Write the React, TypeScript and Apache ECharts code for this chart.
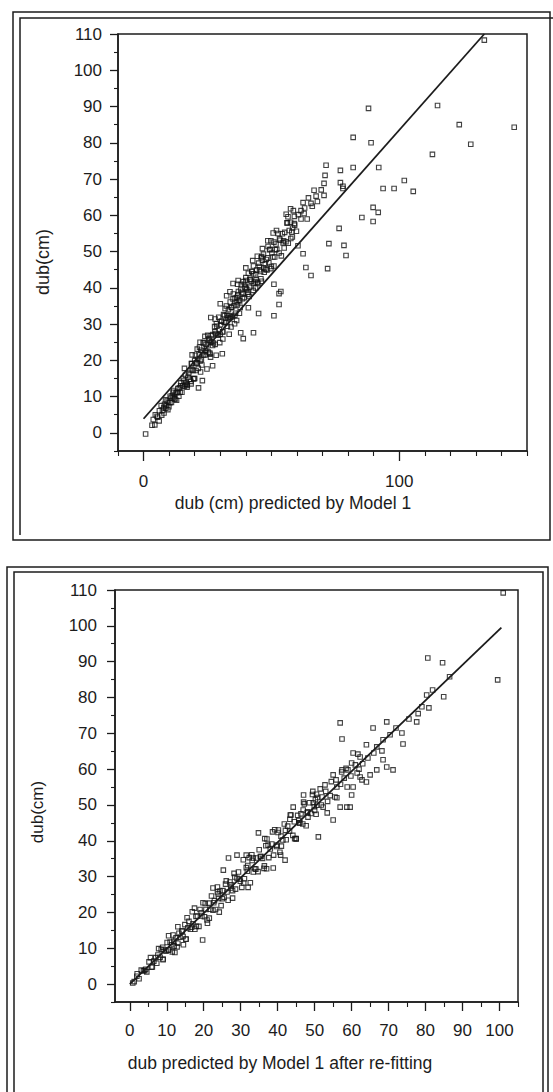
import React, { useEffect, useRef } from "react";
import * as echarts from "echarts";

// Panel 1: observed dub (cm) vs dub (cm) predicted by Model 1
const topPoints: number[][] = [
  [0.8, -0.3],
  [3.3, 2.1], [3.8, 3.7], [4.4, 2.2], [4.6, 5.0], [5.3, 4.6], [5.5, 4.3], [6.1, 3.3], [6.2, 6.1], [6.9, 7.5], [7.1, 4.9],
  [7.4, 6.2], [7.9, 7.0], [8.0, 5.5], [8.6, 9.1], [8.7, 6.8], [9.2, 8.8], [9.5, 6.4], [9.7, 8.4], [10.3, 8.3], [10.4, 10.1],
  [10.9, 8.4], [11.2, 10.2], [11.6, 9.7], [11.8, 11.7], [12.3, 9.3], [12.5, 11.0], [12.9, 9.0], [13.4, 12.2], [13.5, 11.1], [14.0, 12.4],
  [14.3, 11.2], [14.6, 13.8], [15.0, 11.2], [15.3, 13.0], [15.8, 14.3], [16.0, 12.9], [16.4, 15.9], [16.6, 13.9], [17.1, 13.1], [17.4, 15.4],
  [17.9, 14.8], [18.2, 17.2], [18.5, 14.2], [18.9, 19.1], [19.0, 17.4], [19.4, 17.2], [19.7, 15.0], [20.0, 19.9], [20.3, 21.4], [20.5, 17.2],
  [20.9, 19.3], [21.2, 20.3], [21.4, 17.8], [21.9, 23.6], [22.1, 19.8], [22.4, 22.8], [22.8, 18.7], [23.0, 22.1], [23.5, 21.5], [23.7, 24.8],
  [24.1, 21.5], [24.4, 24.4], [24.7, 23.3], [25.1, 26.9], [25.3, 22.3], [25.8, 25.5], [26.0, 21.7], [26.4, 26.8], [26.7, 25.1], [27.1, 27.1],
  [27.3, 24.8], [27.8, 29.3], [28.0, 24.4], [28.3, 27.4], [28.7, 29.4], [28.9, 27.0], [29.4, 31.9], [29.6, 28.5], [30.0, 27.2], [30.3, 30.8],
  [30.6, 30.8], [31.0, 27.9], [31.3, 32.6], [31.5, 30.5], [31.9, 34.3], [32.2, 30.4], [32.6, 32.4], [32.8, 29.4], [33.2, 34.0], [33.5, 32.3],
  [33.9, 36.1], [34.1, 31.9], [34.5, 34.6], [34.8, 32.1], [35.1, 38.3], [35.4, 35.1], [35.8, 37.2], [36.0, 33.0], [36.5, 37.3], [36.7, 35.3],
  [37.1, 39.0], [37.3, 36.6], [37.8, 34.6], [38.0, 39.4], [38.4, 38.7], [38.7, 37.0], [39.0, 41.7], [39.4, 37.3], [39.7, 40.2], [40.1, 42.0],
  [40.4, 39.5], [40.8, 38.2], [41.0, 44.0], [41.5, 40.2], [41.7, 42.3], [42.2, 41.8], [42.4, 44.5], [42.9, 39.3], [43.1, 43.9], [43.6, 41.6],
  [44.0, 42.2], [44.3, 44.9], [44.7, 41.2], [45.0, 46.8], [45.4, 45.0], [45.8, 44.5], [46.1, 41.8], [46.5, 47.6], [46.9, 49.3], [47.2, 44.3],
  [47.6, 46.6], [48.0, 47.8], [48.3, 44.9], [48.7, 51.4], [49.0, 46.9], [49.5, 50.6], [49.8, 45.3], [50.2, 49.6], [50.6, 48.5], [51.0, 52.6],
  [51.3, 48.5], [51.8, 52.1], [52.1, 50.6], [52.6, 55.0], [53.0, 49.6], [53.4, 53.1], [53.9, 48.8], [54.3, 54.9], [54.8, 53.0], [55.2, 55.3],
  [55.7, 52.7], [56.1, 57.9], [56.6, 52.3], [57.0, 55.8], [57.5, 58.1], [58.0, 55.4], [58.6, 61.3], [59.1, 57.3], [59.8, 55.6], [60.5, 60.2],
  [8.2, 7.9], [9.0, 7.5], [9.9, 7.2], [10.7, 9.6], [11.5, 11.2], [12.1, 9.4], [13.0, 11.2], [13.8, 10.1], [14.5, 13.0], [15.5, 15.0],
  [16.3, 13.4], [17.0, 13.4], [17.7, 16.4], [18.7, 19.1], [19.6, 14.9], [20.7, 19.3], [21.7, 21.7], [22.6, 20.2], [23.3, 24.9], [24.2, 22.6],
  [25.5, 26.0], [26.2, 25.0], [27.0, 24.1], [27.9, 27.9], [28.5, 30.1], [29.3, 27.0], [30.1, 29.8], [30.9, 27.8], [31.7, 32.3], [32.4, 35.0],
  [33.0, 31.8], [33.7, 31.5], [34.3, 34.6], [35.0, 36.9], [35.7, 32.4], [36.3, 36.1], [36.9, 38.1], [37.6, 36.4], [38.2, 40.9], [38.9, 38.4],
  [39.5, 41.0], [40.2, 39.9], [40.9, 38.8], [41.6, 42.3], [42.3, 44.5], [43.0, 41.2], [43.8, 43.6], [44.6, 41.5], [45.3, 45.9], [46.2, 48.6],
  [47.0, 45.5], [47.8, 45.1], [48.5, 48.3], [49.3, 50.5], [50.0, 45.9], [51.5, 50.5], [53.2, 53.5], [54.6, 52.4], [56.3, 57.9], [58.3, 56.5],
  [18.6, 13.5], [21.5, 12.4], [23.0, 14.4], [24.8, 17.6], [27.0, 18.5], [28.4, 21.4], [30.8, 21.8], [26.2, 20.9], [22.3, 16.8], [20.0, 15.0],
  [26.3, 31.8], [22.1, 25.0], [19.0, 21.5], [17.0, 12.6], [16.0, 17.8], [24.0, 26.6], [28.0, 31.4], [21.0, 23.1], [25.9, 22.0], [29.8, 24.9],
  [31.0, 25.9], [33.5, 27.2], [35.6, 30.1], [38.0, 27.6], [39.0, 26.0], [43.0, 27.6], [45.0, 32.9], [36.4, 31.0], [41.0, 34.5], [34.2, 29.2], [37.5, 33.0],
  [37.0, 42.0], [35.0, 41.2], [32.5, 37.8], [40.0, 45.5], [42.7, 47.5], [33.8, 38.9], [30.0, 35.6],
  [41.3, 37.6], [43.8, 40.0], [45.9, 42.5], [46.5, 50.8], [48.6, 53.0], [50.7, 55.1], [44.5, 48.7], [55.8, 60.3], [57.5, 61.8], [58.2, 54.0],
  [52.0, 55.8], [49.8, 53.0], [57.6, 53.6], [55.0, 51.0], [60.4, 51.6], [46.0, 48.3], [43.0, 46.0], [51.0, 46.0], [40.0, 42.8], [36.8, 41.0],
  [53.7, 39.0], [53.0, 35.4], [51.0, 41.0], [53.0, 38.4], [51.0, 32.3], [65.5, 43.4], [62.4, 49.4], [63.5, 45.6], [72.0, 45.3], [72.5, 52.2],
  [78.4, 51.7], [79.2, 48.9], [76.5, 56.4], [85.4, 59.4], [89.8, 58.3], [89.8, 62.2], [91.8, 60.8], [93.7, 67.4], [98.0, 67.4], [102.0, 69.6],
  [105.5, 66.6], [113.0, 76.8], [128.0, 79.6], [123.5, 85.0], [145.0, 84.3], [115.0, 90.3], [133.3, 108.3], [88.0, 89.5], [82.0, 81.5], [89.0, 80.0],
  [82.0, 73.2], [92.0, 73.2], [77.0, 72.4], [71.0, 71.0], [77.0, 69.0], [70.6, 68.8], [66.7, 66.9], [70.6, 65.5], [78.0, 67.4], [62.4, 63.5],
  [65.5, 63.3], [61.6, 61.3], [59.0, 59.7], [61.6, 59.0], [71.4, 73.8], [63.0, 62.0], [64.5, 64.8], [66.0, 62.5], [67.5, 65.3], [68.0, 63.8],
  [69.5, 67.0], [62.8, 60.5], [64.0, 59.0], [78.0, 68.0], [59.0, 57.7], [56.5, 59.6]
];

// Panel 2: observed dub (cm) vs dub predicted by Model 1 after re-fitting
const bottomPoints: number[][] = [
  [0.8, 0.3], [1.2, 0.7], [1.9, 2.2], [2.5, 1.5], [3.1, 3.9], [3.7, 3.7], [4.3, 4.1], [4.6, 3.4], [5.2, 6.2], [5.6, 7.4],
  [6.1, 4.8], [6.5, 6.4], [7.0, 7.4], [7.3, 5.8], [7.8, 9.9], [8.2, 7.5], [8.5, 9.7], [9.0, 7.0], [9.3, 9.5], [9.8, 9.2],
  [10.1, 11.6], [10.6, 9.5], [10.9, 11.7], [11.3, 11.0], [11.7, 13.7], [12.0, 10.6], [12.5, 12.9], [12.8, 10.4], [13.3, 14.2], [13.6, 13.1],
  [14.1, 14.7], [14.4, 13.3], [14.9, 16.6], [15.2, 12.5], [15.7, 15.7], [16.0, 17.5], [16.4, 15.3], [16.9, 20.2], [17.1, 16.8], [17.6, 15.3],
  [17.9, 18.9], [18.3, 19.0], [18.7, 16.1], [19.0, 20.8], [19.5, 19.0], [19.8, 22.7], [20.2, 18.8], [20.6, 20.8], [20.9, 17.9], [21.4, 22.6],
  [21.7, 20.9], [22.1, 24.6], [22.5, 20.6], [22.9, 23.3], [23.2, 20.8], [23.7, 27.1], [24.0, 23.9], [24.4, 26.0], [24.7, 21.9], [25.2, 26.1],
  [25.5, 24.2], [25.9, 27.9], [26.3, 25.7], [26.6, 23.4], [27.1, 28.5], [27.4, 27.7], [27.8, 26.1], [28.2, 30.9], [28.6, 26.5], [29.0, 29.5],
  [29.4, 31.3], [29.9, 28.7], [30.3, 27.0], [30.7, 34.7], [31.0, 29.4], [31.5, 32.5], [31.8, 31.5], [32.3, 35.3], [32.6, 28.3], [33.1, 34.5],
  [33.4, 31.3], [33.8, 32.2], [34.2, 35.2], [34.7, 31.4], [35.0, 37.5], [35.5, 35.6], [35.9, 35.1], [36.3, 32.3], [36.8, 38.6], [37.1, 40.5],
  [37.6, 35.3], [38.0, 37.7], [38.4, 39.1], [38.9, 36.0], [39.2, 43.1], [39.7, 38.4], [40.1, 42.3], [40.6, 36.8], [40.9, 41.3], [41.4, 40.2],
  [41.8, 44.7], [42.3, 40.3], [42.7, 44.1], [43.2, 42.7], [43.6, 47.2], [44.1, 41.5], [44.5, 45.3], [45.0, 40.6], [45.4, 47.1], [45.9, 45.0],
  [46.3, 47.5], [46.8, 44.7], [47.2, 50.3], [47.7, 44.2], [48.1, 48.1], [48.6, 50.6], [49.0, 47.6], [49.5, 53.8], [49.9, 49.5], [50.4, 47.4],
  [50.8, 52.1],
  [2.0, 2.9], [4.0, 3.8], [5.9, 4.7], [7.6, 8.1], [8.9, 10.3], [10.4, 9.5], [11.9, 12.0], [13.0, 11.4], [14.2, 14.9], [15.5, 18.5],
  [16.7, 15.9], [18.0, 16.1], [19.3, 19.9], [20.4, 22.5], [21.5, 18.4], [22.7, 22.7], [23.9, 25.2], [25.0, 23.8], [26.1, 28.8], [27.3, 26.8],
  [28.4, 29.9], [29.6, 29.3], [30.8, 28.2], [31.9, 33.1], [33.0, 36.1], [34.1, 32.1], [35.3, 35.6], [36.4, 33.0], [37.4, 38.8], [38.6, 42.5],
  [39.8, 38.8], [41.0, 38.5], [42.1, 42.9], [43.3, 46.0], [44.6, 40.6], [45.7, 45.7], [46.9, 48.6], [48.2, 46.6], [49.4, 52.9], [50.6, 49.9],
  [9.0, 6.8], [11.5, 9.0], [13.0, 16.0], [14.5, 11.0], [10.5, 13.5], [12.2, 8.8], [15.2, 12.6],
  [19.7, 12.3], [23.7, 25.7], [25.3, 31.8], [26.7, 35.2], [29.0, 36.0], [17.5, 21.2], [21.0, 17.0], [24.2, 20.1], [27.8, 24.0], [22.5, 26.8],
  [34.8, 42.2], [33.4, 35.2], [38.8, 32.4], [42.0, 34.6], [40.2, 43.0], [43.4, 47.2], [44.2, 49.4], [46.0, 45.0], [31.5, 36.0], [36.5, 40.6],
  [37.0, 32.2], [40.8, 36.0], [45.0, 40.5], [32.0, 27.0],
  [47.0, 52.8], [49.6, 50.6], [52.0, 52.2], [56.0, 52.0], [59.6, 49.4], [56.9, 49.4], [52.3, 49.4], [58.7, 49.4], [47.0, 50.8], [48.0, 47.8],
  [53.4, 47.8], [55.0, 45.8], [51.0, 41.1], [52.8, 55.6], [56.0, 55.0], [58.8, 55.0], [60.4, 55.0], [55.0, 58.4], [57.4, 59.8], [59.0, 59.8],
  [61.5, 58.9], [62.8, 57.0], [65.0, 58.4], [66.8, 59.8], [69.5, 60.6], [71.2, 59.8], [68.5, 62.6], [64.4, 63.1], [62.3, 63.4], [60.4, 64.5],
  [68.2, 65.1], [66.8, 66.2], [64.0, 66.8], [68.5, 68.2], [73.9, 67.0], [70.4, 69.6], [73.6, 70.1], [65.8, 71.5], [57.4, 68.4], [56.9, 72.9],
  [69.5, 73.2], [77.6, 73.2], [79.0, 77.4], [80.9, 77.1], [84.9, 80.2], [80.3, 80.7], [81.9, 82.1], [86.5, 85.8], [99.5, 84.9], [84.6, 89.7],
  [80.6, 91.0], [101.0, 109.2], [60.0, 52.8], [55.5, 52.2], [62.3, 57.8], [64.0, 56.4], [60.0, 61.7], [61.7, 64.2], [57.3, 59.2], [50.5, 53.0],
  [53.5, 51.0], [51.5, 54.5], [54.5, 56.5], [50.0, 48.5], [58.0, 57.5], [63.0, 61.5], [66.0, 64.5], [72.0, 71.5], [75.5, 74.0], [78.0, 75.5],
  [50.2, 51.5], [51.8, 50.0], [53.0, 53.8], [54.2, 52.6], [55.8, 57.0], [57.0, 55.8], [58.5, 60.2], [59.8, 58.1], [61.0, 61.2], [62.0, 60.0]
];

// Fitted lines (predicted, observed)
const topFit: number[][] = [[0, 3.9], [133.3, 110]];
const bottomFit: number[][] = [[0, 0], [100.5, 99.5]];

// Tick labels
const topXMajor = [0, 100];
const topXMinor = [-10, 10, 20, 30, 40, 50, 60, 70, 80, 90, 110, 120, 130, 140, 150];
const yMajor = [0, 10, 20, 30, 40, 50, 60, 70, 80, 90, 100, 110];
const yMinor = [-5, 5, 15, 25, 35, 45, 55, 65, 75, 85, 95, 105];
const bottomXMajor = [0, 10, 20, 30, 40, 50, 60, 70, 80, 90, 100];
const bottomXMinor = [5, 15, 25, 35, 45, 55, 65, 75, 85, 95, 105];

const topXTitle = "dub (cm) predicted by Model 1";
const bottomXTitle = "dub predicted by Model 1 after re-fitting";
const yTitle = "dub(cm)";

const INK = "#1c1c1c";
const FONT = '"Liberation Sans", Arial, sans-serif';

function majorAxis(gridIndex: number, min: number, max: number, pos: string, values: number[], tickLen: number, margin: number) {
  return {
    type: "value",
    gridIndex,
    min,
    max,
    position: pos,
    axisLine: { show: true, onZero: false, lineStyle: { color: INK, width: 1.5 } },
    axisTick: { show: true, customValues: values, length: tickLen, lineStyle: { color: INK, width: 1.3 } },
    axisLabel: { show: true, customValues: values, fontSize: 17, color: INK, margin, fontFamily: FONT },
    splitLine: { show: false },
  };
}

function minorAxis(gridIndex: number, min: number, max: number, pos: string, values: number[], tickLen: number) {
  return {
    type: "value",
    gridIndex,
    min,
    max,
    position: pos,
    axisLine: { show: false, onZero: false },
    axisTick: { show: true, customValues: values, length: tickLen, lineStyle: { color: INK, width: 1.1 } },
    axisLabel: { show: false },
    splitLine: { show: false },
  };
}

const frameStyle = { fill: "none", stroke: INK, lineWidth: 1.5 };

export default function App() {
  const ref = useRef<HTMLDivElement>(null);
  useEffect(() => {
    const chart = echarts.init(ref.current!, null, { renderer: "svg" });
    const scatterStyle = { color: "rgba(255,255,255,0)", borderColor: "#111111", borderWidth: 1.1 };
    chart.setOption({
      animation: false,
      backgroundColor: "#ffffff",
      grid: [
        { left: 118, top: 34, width: 409, height: 417, show: true, borderColor: INK, borderWidth: 1.5, backgroundColor: "transparent" },
        { left: 115, top: 590, width: 403, height: 412, show: true, borderColor: INK, borderWidth: 1.5, backgroundColor: "transparent" },
      ],
      xAxis: [
        majorAxis(0, -10, 150, "bottom", topXMajor, 10, 22),
        minorAxis(0, -10, 150, "bottom", topXMinor, 5),
        majorAxis(1, -4, 105, "bottom", bottomXMajor, 9, 20),
        minorAxis(1, -4, 105, "bottom", bottomXMinor, 5),
      ],
      yAxis: [
        majorAxis(0, -5, 110, "left", yMajor, 8, 16),
        minorAxis(0, -5, 110, "left", yMinor, 4),
        majorAxis(1, -5, 110, "left", yMajor, 8, 18),
        minorAxis(1, -5, 110, "left", yMinor, 4),
      ],
      series: [
        {
          type: "scatter",
          xAxisIndex: 0,
          yAxisIndex: 0,
          data: topPoints,
          symbol: "rect",
          symbolSize: 4.5,
          itemStyle: scatterStyle,
        },
        {
          type: "line",
          xAxisIndex: 0,
          yAxisIndex: 0,
          data: topFit,
          showSymbol: false,
          symbol: "none",
          lineStyle: { color: INK, width: 1.8 },
          z: 3,
        },
        {
          type: "scatter",
          xAxisIndex: 2,
          yAxisIndex: 2,
          data: bottomPoints,
          symbol: "rect",
          symbolSize: 4.5,
          itemStyle: scatterStyle,
        },
        {
          type: "line",
          xAxisIndex: 2,
          yAxisIndex: 2,
          data: bottomFit,
          showSymbol: false,
          symbol: "none",
          lineStyle: { color: INK, width: 1.8 },
          z: 3,
        },
      ],
      graphic: [
        { type: "rect", silent: true, shape: { x: 13, y: 12, width: 537, height: 528 }, style: frameStyle },
        { type: "polyline", silent: true, shape: { points: [[20, 535], [20, 18], [553, 18]] }, style: frameStyle },
        { type: "rect", silent: true, shape: { x: 7, y: 567, width: 541, height: 560 }, style: frameStyle },
        { type: "rect", silent: true, shape: { x: 14, y: 572, width: 529, height: 560 }, style: frameStyle },
        {
          type: "text", silent: true, x: 293, y: 503,
          style: { text: topXTitle, fontSize: 17.5, fontFamily: FONT, fill: INK, align: "center", verticalAlign: "middle" },
        },
        {
          type: "text", silent: true, x: 280, y: 1063,
          style: { text: bottomXTitle, fontSize: 17.5, fontFamily: FONT, fill: INK, align: "center", verticalAlign: "middle" },
        },
        {
          type: "text", silent: true, x: 43, y: 262, rotation: Math.PI / 2,
          style: { text: yTitle, fontSize: 18, fontFamily: FONT, fill: INK, align: "center", verticalAlign: "middle" },
        },
        {
          type: "text", silent: true, x: 37, y: 812, rotation: Math.PI / 2,
          style: { text: yTitle, fontSize: 17, fontFamily: FONT, fill: INK, align: "center", verticalAlign: "middle" },
        },
      ],
    });
    return () => chart.dispose();
  }, []);
  return (
    <div
      ref={ref}
      style={{ position: "absolute", left: 0, top: 0, width: 553, height: 1092, background: "#ffffff" }}
    />
  );
}
